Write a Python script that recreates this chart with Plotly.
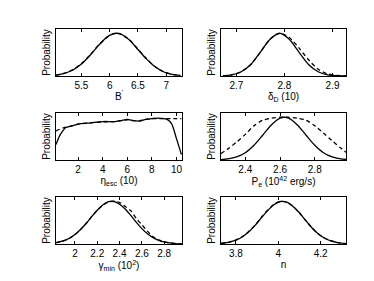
import plotly.graph_objects as go

# ---------------- data ----------------
b_x = [5.05, 5.2, 5.35, 5.5, 5.65, 5.8, 5.95, 6.05, 6.12, 6.2, 6.35, 6.5, 6.65, 6.8, 6.95, 7.1, 7.25]
b_solid = [0.02, 0.06, 0.14, 0.28, 0.48, 0.71, 0.91, 0.98, 1.0, 0.98, 0.84, 0.62, 0.40, 0.22, 0.10, 0.04, 0.015]
b_dash = [0.02, 0.065, 0.15, 0.29, 0.49, 0.72, 0.90, 0.98, 1.0, 0.975, 0.85, 0.63, 0.41, 0.22, 0.10, 0.04, 0.015]

d_x = [2.672, 2.69, 2.71, 2.73, 2.75, 2.77, 2.79, 2.81, 2.83, 2.85, 2.87, 2.89, 2.91, 2.928]
d_solid = [0.006, 0.026, 0.10, 0.27, 0.56, 0.86, 1.0, 0.86, 0.56, 0.27, 0.10, 0.026, 0.006, 0.001]
d_dash = [0.006, 0.028, 0.10, 0.27, 0.56, 0.86, 1.0, 0.90, 0.66, 0.38, 0.16, 0.05, 0.012, 0.003]

e_x = [0.2, 0.5, 0.8, 1.0, 1.5, 2.0, 3.0, 4.0, 5.0, 5.5, 6.0, 6.5, 7.0, 7.5, 8.0, 8.5, 9.0, 9.3, 9.6, 10.0, 10.4]
e_solid = [0.36, 0.57, 0.70, 0.76, 0.80, 0.84, 0.87, 0.90, 0.90, 0.92, 0.95, 0.92, 0.91, 0.95, 0.97, 0.98, 0.97, 0.94, 0.85, 0.50, 0.13]
e_dash = [0.68, 0.72, 0.75, 0.77, 0.80, 0.84, 0.87, 0.89, 0.90, 0.92, 0.94, 0.92, 0.92, 0.95, 0.97, 0.97, 0.97, 0.97, 0.97, 0.97, 0.97]

p_x = [2.26, 2.3, 2.35, 2.4, 2.45, 2.5, 2.55, 2.6, 2.625, 2.65, 2.7, 2.75, 2.8, 2.85, 2.9, 2.95, 2.98]
p_solid = [0.01, 0.026, 0.072, 0.17, 0.345, 0.58, 0.82, 0.98, 1.0, 0.98, 0.82, 0.58, 0.345, 0.17, 0.072, 0.026, 0.012]
p_dash = [0.15, 0.26, 0.42, 0.60, 0.80, 0.93, 0.98, 1.0, 1.0, 1.0, 0.98, 0.93, 0.80, 0.63, 0.45, 0.28, 0.18]

g_x = [1.83, 1.9, 1.95, 2.0, 2.05, 2.1, 2.15, 2.2, 2.25, 2.3, 2.35, 2.4, 2.45, 2.5, 2.55, 2.6, 2.65, 2.7, 2.75, 2.8, 2.85, 2.9, 2.96]
g_solid = [0.03, 0.077, 0.135, 0.22, 0.34, 0.48, 0.64, 0.79, 0.915, 0.99, 0.995, 0.93, 0.82, 0.67, 0.51, 0.36, 0.24, 0.15, 0.087, 0.047, 0.024, 0.011, 0.004]
g_dash = [0.03, 0.075, 0.13, 0.22, 0.34, 0.48, 0.64, 0.79, 0.91, 0.98, 1.0, 0.97, 0.88, 0.78, 0.60, 0.45, 0.30, 0.17, 0.10, 0.05, 0.025, 0.012, 0.004]

n_x = [3.73, 3.77, 3.8, 3.83, 3.86, 3.89, 3.92, 3.95, 3.98, 4.01, 4.04, 4.07, 4.1, 4.13, 4.16, 4.19, 4.22, 4.25, 4.28, 4.32]
n_solid = [0.015, 0.044, 0.089, 0.165, 0.28, 0.43, 0.61, 0.78, 0.92, 0.995, 0.98, 0.88, 0.73, 0.55, 0.375, 0.236, 0.135, 0.071, 0.034, 0.011]
n_dash = [0.015, 0.046, 0.092, 0.17, 0.29, 0.44, 0.62, 0.79, 0.93, 0.995, 0.98, 0.88, 0.73, 0.55, 0.375, 0.236, 0.135, 0.071, 0.034, 0.011]

x_titles = ["B<sup>'</sup>", "δ<sub>D</sub> (10)", "η<sub>esc</sub> (10)",
            "P<sub>e</sub> (10<sup>42</sup> erg/s)", "γ<sub>min</sub> (10<sup>2</sup>)", "n"]
x_ranges = [[5.05, 7.28], [2.668, 2.928], [0.2, 10.45], [2.26, 2.98], [1.83, 2.96], [3.73, 4.32]]
x_ticks = [[5.5, 6, 6.5, 7], [2.7, 2.8, 2.9], [2, 4, 6, 8, 10],
           [2.4, 2.6, 2.8], [2, 2.2, 2.4, 2.6, 2.8], [3.8, 4, 4.2]]
panels = [(b_x, b_solid, b_dash), (d_x, d_solid, d_dash), (e_x, e_solid, e_dash),
          (p_x, p_solid, p_dash), (g_x, g_solid, g_dash), (n_x, n_solid, n_dash)]

# ---------------- layout ----------------
W, H = 374, 281
col_px = [(48, 174), (213, 338)]
row_px = [(21, 68), (105, 152), (189, 236)]
FONT = "Liberation Sans, Arial, Helvetica, sans-serif"
FS = 10

fig = go.Figure()
layout = dict(
    width=W, height=H, margin=dict(l=0, r=0, t=0, b=0),
    paper_bgcolor="white", plot_bgcolor="white", showlegend=False,
    font=dict(family=FONT, size=FS, color="black"),
)

for i, (xs, ys, yd) in enumerate(panels):
    r, c = divmod(i, 2)
    k = "" if i == 0 else str(i + 1)
    xd = [col_px[c][0] / W, col_px[c][1] / W]
    yd_dom = [1 - row_px[r][1] / H, 1 - row_px[r][0] / H]
    layout["xaxis" + k] = dict(
        domain=xd, anchor="y" + k, range=x_ranges[i], tickvals=x_ticks[i],
        ticks="inside", ticklen=3, tickwidth=1, tickcolor="black",
        showline=True, linecolor="black", linewidth=1, mirror="ticks",
        showgrid=False, zeroline=False, tickfont=dict(size=FS),
        title=dict(text=x_titles[i], font=dict(size=FS), standoff=2),
    )
    layout["yaxis" + k] = dict(
        domain=yd_dom, anchor="x" + k, range=[0, 1.1],
        showticklabels=False, ticks="", showline=True, linecolor="black",
        linewidth=1, mirror=True, showgrid=False, zeroline=False,
        title=dict(text="Probability", font=dict(size=FS), standoff=2),
    )
    fig.add_trace(go.Scatter(x=xs, y=yd, mode="lines", xaxis="x" + k, yaxis="y" + k,
                             line=dict(color="black", width=1.3, dash="4px,3px", shape="spline", smoothing=0.8)))
    fig.add_trace(go.Scatter(x=xs, y=ys, mode="lines", xaxis="x" + k, yaxis="y" + k,
                             line=dict(color="black", width=1.3, shape="spline", smoothing=0.8)))

fig.update_layout(**layout)
fig.write_html("out.html")
